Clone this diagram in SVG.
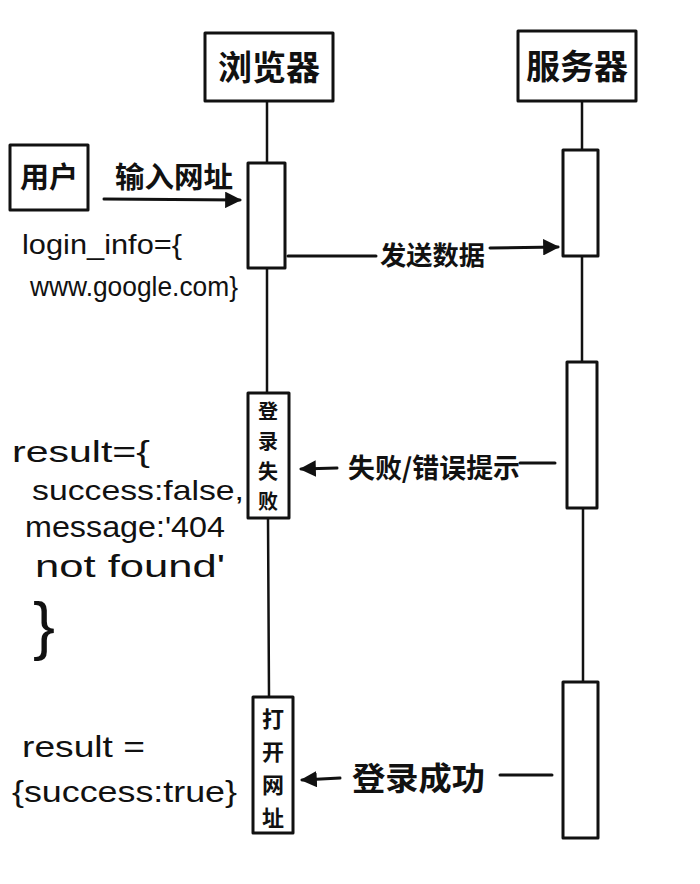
<svg xmlns="http://www.w3.org/2000/svg" width="700" height="884" viewBox="0 0 700 884">
<style>
.bx{fill:#fff;stroke:#111;stroke-width:3;stroke-linejoin:round}
.ln{fill:none;stroke:#111;stroke-width:2.5;stroke-linecap:round}
.ar{fill:none;stroke:#111;stroke-width:3;stroke-linecap:round}
.zh{font-family:"Noto Sans CJK SC","Noto Sans",sans-serif;fill:#111;font-weight:bold}
.en{font-family:"Liberation Sans","DejaVu Sans",sans-serif;fill:#111}
</style>
<defs>
<marker id="ah" viewBox="0 0 10 10" refX="9" refY="5" markerWidth="5.5" markerHeight="5.5" orient="auto" markerUnits="strokeWidth">
<path d="M0,0 L10,5 L0,10 Z" fill="#111"/>
</marker>
</defs>
<rect width="700" height="884" fill="#fff"/>

<g id="lifelines">
<line class="ln" x1="267" y1="102" x2="267" y2="163"/>
<line class="ln" x1="267" y1="268" x2="267" y2="393"/>
<line class="ln" x1="268" y1="518" x2="269" y2="697"/>
<line class="ln" x1="582" y1="101" x2="582" y2="150"/>
<line class="ln" x1="582" y1="256" x2="582" y2="362"/>
<line class="ln" x1="583" y1="508" x2="583" y2="682"/>
</g>

<g id="browser">
<rect class="bx" x="205" y="33" width="128" height="68"/>
<text class="zh" x="269" y="80" font-size="34" text-anchor="middle">浏览器</text>
</g>
<g id="server">
<rect class="bx" x="518" y="31" width="118" height="70"/>
<text class="zh" x="577" y="79" font-size="34" text-anchor="middle">服务器</text>
</g>
<g id="user">
<rect class="bx" x="10" y="145" width="78" height="65"/>
<text class="zh" x="49" y="188" font-size="29" text-anchor="middle">用户</text>
</g>

<g id="browser-act1"><rect class="bx" x="248" y="163" width="37" height="105"/></g>
<g id="browser-act2">
<rect class="bx" x="248" y="393" width="41" height="125"/>
<text class="zh" x="268" y="419" font-size="20" text-anchor="middle">登</text>
<text class="zh" x="268" y="449" font-size="20" text-anchor="middle">录</text>
<text class="zh" x="268" y="479" font-size="20" text-anchor="middle">失</text>
<text class="zh" x="268" y="509" font-size="20" text-anchor="middle">败</text>
</g>
<g id="browser-act3">
<rect class="bx" x="253" y="697" width="40" height="136"/>
<text class="zh" x="273" y="727" font-size="22" text-anchor="middle">打</text>
<text class="zh" x="273" y="760" font-size="22" text-anchor="middle">开</text>
<text class="zh" x="273" y="793" font-size="22" text-anchor="middle">网</text>
<text class="zh" x="273" y="826" font-size="22" text-anchor="middle">址</text>
</g>
<g id="server-act1"><rect class="bx" x="563" y="150" width="35" height="106"/></g>
<g id="server-act2"><rect class="bx" x="567" y="362" width="30" height="146"/></g>
<g id="server-act3"><rect class="bx" x="563" y="682" width="35" height="156"/></g>

<g id="connectors">
<line class="ar" x1="104" y1="199" x2="240" y2="200" marker-end="url(#ah)"/>
<line class="ar" x1="288" y1="256" x2="376" y2="256"/>
<line class="ar" x1="490" y1="248" x2="558" y2="247" marker-end="url(#ah)"/>
<line class="ar" x1="337" y1="468" x2="301" y2="469" marker-end="url(#ah)"/>
<line class="ar" x1="520" y1="463" x2="555" y2="463"/>
<line class="ar" x1="340" y1="778" x2="302" y2="780" marker-end="url(#ah)"/>
<line class="ar" x1="500" y1="775" x2="552" y2="775"/>
</g>

<g id="labels">
<text class="zh" x="115" y="188" font-size="29" textLength="118" lengthAdjust="spacingAndGlyphs">输入网址</text>
<text class="zh" x="380" y="265" font-size="26" textLength="105" lengthAdjust="spacingAndGlyphs">发送数据</text>
<text class="zh" x="348" y="478" font-size="27" textLength="172" lengthAdjust="spacingAndGlyphs">失败/错误提示</text>
<text class="zh" x="352" y="790" font-size="32" textLength="133" lengthAdjust="spacingAndGlyphs">登录成功</text>
</g>

<g id="notes">
<text class="en" x="22" y="254" font-size="28" textLength="160" lengthAdjust="spacingAndGlyphs">login_info={</text>
<text class="en" x="30" y="296" font-size="28" textLength="208" lengthAdjust="spacingAndGlyphs">www.google.com}</text>
<text class="en" x="12" y="462" font-size="30" textLength="138" lengthAdjust="spacingAndGlyphs">result={</text>
<text class="en" x="32" y="500" font-size="28" textLength="212" lengthAdjust="spacingAndGlyphs">success:false,</text>
<text class="en" x="25" y="537" font-size="30" textLength="200" lengthAdjust="spacingAndGlyphs">message:'404</text>
<text class="en" x="35" y="577" font-size="32" textLength="190" lengthAdjust="spacingAndGlyphs">not found'</text>
<text class="en" x="33" y="648" font-size="64" textLength="22" lengthAdjust="spacingAndGlyphs">}</text>
<text class="en" x="22" y="757" font-size="30" textLength="123" lengthAdjust="spacingAndGlyphs">result =</text>
<text class="en" x="12" y="802" font-size="30" textLength="225" lengthAdjust="spacingAndGlyphs">{success:true}</text>
</g>
</svg>
